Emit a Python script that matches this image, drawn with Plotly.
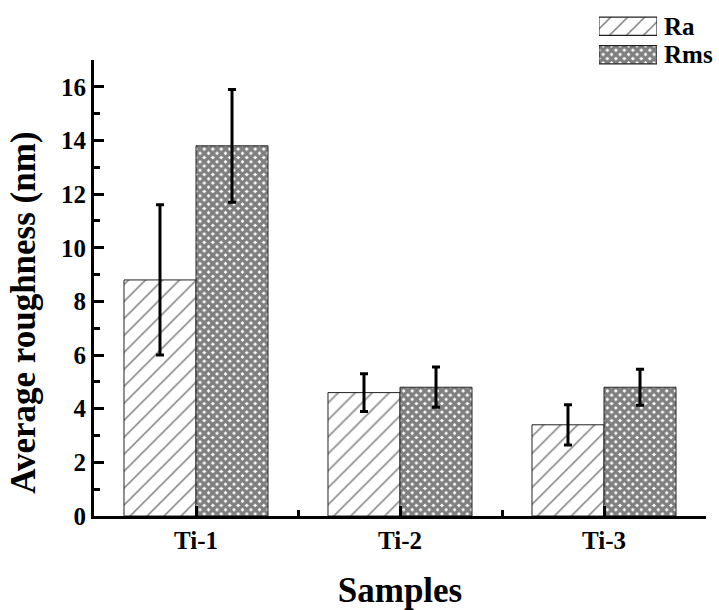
import plotly.graph_objects as go

# ---- data ----
categories = ["Ti-1", "Ti-2", "Ti-3"]
series_names = ["Ra", "Rms"]
ra_values = [8.8, 4.6, 3.4]
ra_errors = [2.8, 0.7, 0.75]
rms_values = [13.8, 4.8, 4.8]
rms_errors = [2.1, 0.75, 0.67]
y_tick_step = 2

FONT = "Liberation Serif"
positions = list(range(len(categories)))

patterns = {
    "Ra": dict(shape="/", size=12, solidity=0.13, fgcolor="black", bgcolor="white", fillmode="overlay"),
    "Rms": dict(shape="x", size=6, solidity=0.8, fgcolor="black", bgcolor="white", fillmode="overlay"),
}

fig = go.Figure()
for name, vals, errs in [("Ra", ra_values, ra_errors), ("Rms", rms_values, rms_errors)]:
    fig.add_trace(go.Bar(
        x=positions, y=vals, name=name, showlegend=False,
        marker=dict(color="white", pattern=patterns[name], line=dict(color="#222", width=1)),
        error_y=dict(type="data", array=errs, color="black", thickness=3, width=4),
        xaxis="x", yaxis="y",
    ))

# legend swatches as a small horizontal bar chart in its own axes
fig.add_trace(go.Bar(
    y=series_names, x=[1] * len(series_names), orientation="h", width=0.64,
    showlegend=False, hoverinfo="skip",
    marker=dict(
        color="white",
        pattern=dict(
            shape=[patterns[n]["shape"] for n in series_names],
            size=[patterns[n]["size"] for n in series_names],
            solidity=[patterns[n]["solidity"] for n in series_names],
            fgcolor="black", bgcolor="white", fillmode="overlay",
        ),
        line=dict(color="#222", width=1.2),
    ),
    xaxis="x2", yaxis="y2",
))

fig.update_layout(
    width=719, height=610,
    margin=dict(l=94, r=13, t=5, b=94, autoexpand=False),
    paper_bgcolor="white", plot_bgcolor="rgba(0,0,0,0)",
    barmode="group", bargap=0.294, bargroupgap=0,
    font=dict(family=FONT, color="black", size=24, weight="bold"),
    xaxis=dict(
        domain=[0, 1], range=[-0.5, 2.5], automargin=False,
        tickvals=positions, ticktext=categories,
        tickfont=dict(family=FONT, size=25, weight="bold", color="black"),
        showline=True, linecolor="black", linewidth=3,
        ticks="inside", ticklen=10, tickwidth=3, tickcolor="black",
        minor=dict(tick0=0.5, dtick=1, ticks="inside", ticklen=6, tickwidth=3, tickcolor="black"),
        showgrid=False, zeroline=False,
        title=dict(text="Samples", font=dict(family=FONT, size=35, weight="bold", color="black"), standoff=30),
    ),
    yaxis=dict(
        domain=[0, 0.8924], range=[0, 17], automargin=False,
        tickmode="linear", tick0=0, dtick=y_tick_step,
        tickfont=dict(family=FONT, size=25, weight="bold", color="black"),
        showline=True, linecolor="black", linewidth=3,
        ticks="inside", ticklen=10, tickwidth=3, tickcolor="black",
        minor=dict(dtick=y_tick_step / 2, ticks="inside", ticklen=6, tickwidth=3, tickcolor="black"),
        showgrid=False, zeroline=False,
    ),
    xaxis2=dict(domain=[0.825, 0.920], range=[0, 1], anchor="y2", automargin=False,
                visible=False, showgrid=False, zeroline=False, fixedrange=True),
    yaxis2=dict(domain=[0.8748, 0.9863], range=[1.5, -0.5], anchor="x2", automargin=False,
                type="category", tickmode="array", tickvals=series_names, ticktext=series_names,
                side="right", showline=False, showgrid=False, zeroline=False, ticks="",
                ticklabelstandoff=6,
                tickfont=dict(family=FONT, size=25, weight="bold", color="black"),
                fixedrange=True),
    annotations=[dict(
        text="Average roughness (nm)", textangle=-90,
        xref="paper", yref="paper", x=-0.115, y=0.397,
        xanchor="center", yanchor="middle", showarrow=False,
        font=dict(family=FONT, size=35, weight="bold", color="black"),
    )],
)

fig.write_html("out.html")
